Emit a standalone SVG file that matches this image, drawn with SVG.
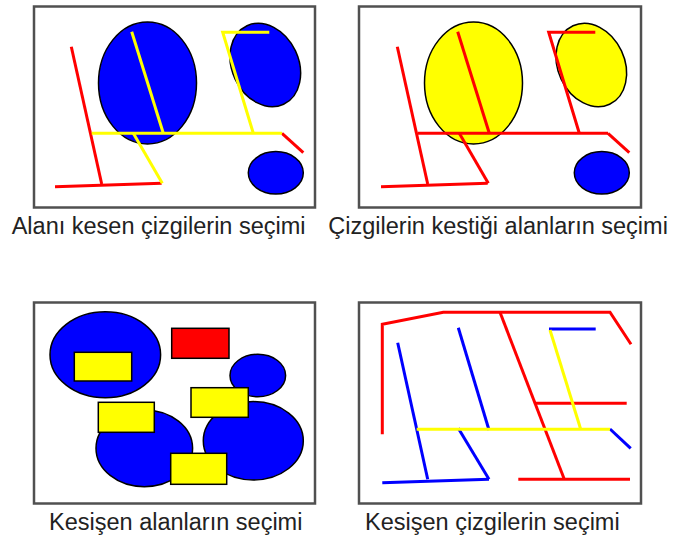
<svg xmlns="http://www.w3.org/2000/svg" width="678" height="540" viewBox="0 0 678 540">
<style>
.frame{fill:#fff;stroke:#505050;stroke-width:2.5}
.sh{stroke:#000;stroke-width:1.5}
.blue{fill:#0000ff}
.yel{fill:#ffff00}
.redf{fill:#ff0000}
.ln{fill:none;stroke-width:3;stroke-linecap:butt;stroke-linejoin:miter}
.r{stroke:#ff0000}
.y{stroke:#ffff00}
.b{stroke:#0000ff}
.cap{font-family:"Liberation Sans",Arial,sans-serif;font-size:23.5px;fill:#222}
</style>
<rect width="678" height="540" fill="#fff"/>

<g id="panel1">
  <rect class="frame" x="34" y="6.5" width="281" height="201"/>
  <g id="p1-shapes">
    <ellipse class="sh blue" cx="147.5" cy="83" rx="49" ry="61"/>
    <ellipse class="sh blue" transform="translate(265.3,65) rotate(-25)" rx="33.3" ry="43.3"/>
    <ellipse class="sh blue" cx="275.8" cy="172.8" rx="27.5" ry="21.2"/>
  </g>
  <g id="p1-lines">
    <line class="ln r" x1="71.3" y1="46.7" x2="101.7" y2="184"/>
    <line class="ln r" x1="55" y1="186.7" x2="161.7" y2="183.3"/>
    <line class="ln r" x1="282" y1="133.3" x2="303.3" y2="152.7"/>
    <line class="ln y" x1="91.7" y1="133.3" x2="282" y2="133.3"/>
    <line class="ln y" x1="131.7" y1="31.7" x2="163.3" y2="133.3"/>
    <line class="ln y" x1="133.3" y1="133.3" x2="162.3" y2="183.3"/>
    <polyline class="ln y" points="269.3,32.3 222.7,32.3 253.3,133.3"/>
  </g>
</g>

<g id="panel2">
  <rect class="frame" x="359" y="6.5" width="282" height="201"/>
  <g transform="translate(326,0)">
    <g id="p2-shapes">
      <ellipse class="sh yel" cx="147.5" cy="83" rx="49" ry="61"/>
      <ellipse class="sh yel" transform="translate(265.3,65) rotate(-25)" rx="33.3" ry="43.3"/>
      <ellipse class="sh blue" cx="275.8" cy="172.8" rx="27.5" ry="21.2"/>
    </g>
    <g id="p2-lines">
      <line class="ln r" x1="71.3" y1="46.7" x2="101.7" y2="184"/>
      <line class="ln r" x1="55" y1="186.7" x2="161.7" y2="183.3"/>
      <line class="ln r" x1="282" y1="133.3" x2="303.3" y2="152.7"/>
      <line class="ln r" x1="91.7" y1="133.3" x2="282" y2="133.3"/>
      <line class="ln r" x1="131.7" y1="31.7" x2="163.3" y2="133.3"/>
      <line class="ln r" x1="133.3" y1="133.3" x2="162.3" y2="183.3"/>
      <polyline class="ln r" points="269.3,32.3 222.7,32.3 253.3,133.3"/>
    </g>
  </g>
</g>

<g id="panel3">
  <rect class="frame" x="34" y="302.5" width="281" height="201"/>
  <ellipse id="p3-e1" class="sh blue" cx="105.3" cy="354.7" rx="55.3" ry="43"/>
  <rect id="p3-r1" class="sh yel" x="74.3" y="352.3" width="57.4" height="28.7"/>
  <rect id="p3-red" class="sh redf" x="171.7" y="328.3" width="57.3" height="30"/>
  <ellipse id="p3-e2" class="sh blue" cx="257.8" cy="375.5" rx="27.8" ry="21.2"/>
  <ellipse id="p3-e3" class="sh blue" cx="253.3" cy="440.8" rx="50" ry="39.2"/>
  <ellipse id="p3-e4" class="sh blue" cx="144.3" cy="448.3" rx="48.3" ry="38.4"/>
  <rect id="p3-r2" class="sh yel" x="191" y="387.7" width="57.3" height="29.6"/>
  <rect id="p3-r3" class="sh yel" x="98.3" y="402.3" width="56" height="30"/>
  <rect id="p3-r4" class="sh yel" x="170.7" y="453.3" width="56" height="31"/>
</g>

<g id="panel4">
  <rect class="frame" x="359" y="302.5" width="282" height="201"/>
  <g transform="translate(326,296)">
    <polyline class="ln r" points="56.3,138.3 56.3,28.3 117.3,16.3 284,16.3 305,48.3"/>
    <line class="ln r" x1="174" y1="16.3" x2="238.3" y2="183.3"/>
    <line class="ln r" x1="192.3" y1="183.3" x2="304" y2="183.3"/>
    <line class="ln r" x1="209" y1="107.3" x2="300.7" y2="107.3"/>
    <line class="ln b" x1="71.7" y1="46.7" x2="101.7" y2="183.3"/>
    <line class="ln b" x1="56.3" y1="186.7" x2="163" y2="183.3"/>
    <line class="ln b" x1="132.3" y1="132.3" x2="163" y2="183.3"/>
    <line class="ln b" x1="132.3" y1="31.7" x2="163" y2="134"/>
    <line class="ln b" x1="223" y1="33" x2="269.7" y2="33"/>
    <line class="ln b" x1="284" y1="133" x2="304.7" y2="152.3"/>
    <line class="ln y" x1="90.7" y1="133.3" x2="284" y2="133.3"/>
    <line class="ln y" x1="224" y1="34" x2="254.7" y2="133.3"/>
  </g>
</g>

<g id="captions">
  <text class="cap" x="11.7" y="234">Alanı kesen çizgilerin seçimi</text>
  <text class="cap" x="328.3" y="233.5">Çizgilerin kestiği alanların seçimi</text>
  <text class="cap" x="49" y="529.5">Kesişen alanların seçimi</text>
  <text class="cap" x="365" y="529.5">Kesişen çizgilerin seçimi</text>
</g>
</svg>
